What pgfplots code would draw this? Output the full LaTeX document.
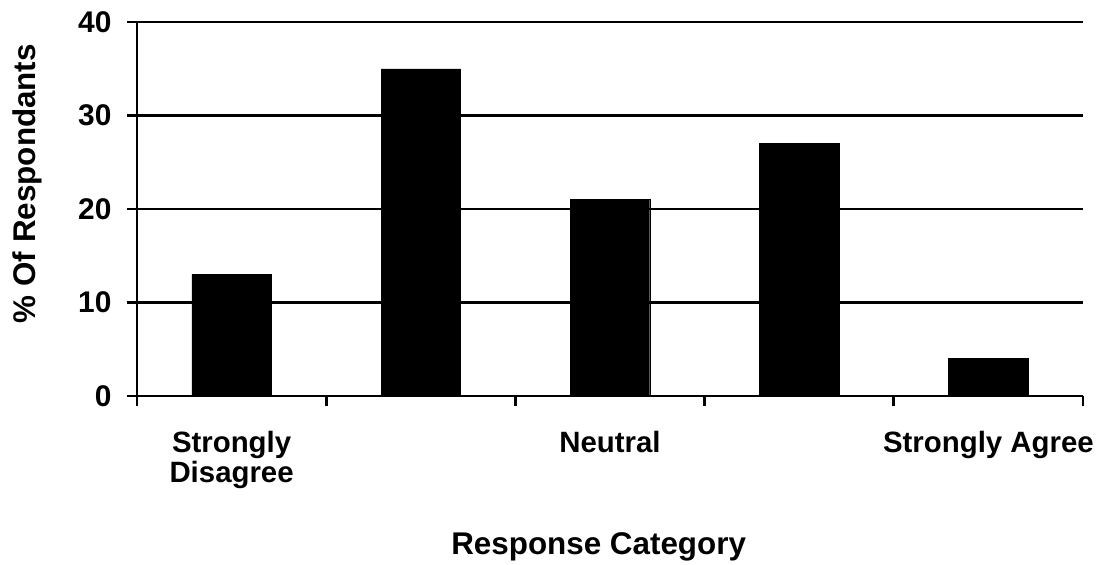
\documentclass[border=0pt]{standalone}
\usepackage{pgfplots}
\pgfplotsset{compat=1.18}
\usepackage{fontspec}
\setmainfont{Liberation Sans}
\begin{document}
\begin{tikzpicture}[x=1bp,y=1bp]
\path[use as bounding box] (0,0) rectangle (1113bp,565bp);
\begin{axis}[
  at={(137bp,169bp)}, anchor=south west,
  scale only axis,
  width=946bp, height=374bp,
  xmin=-0.5, xmax=4.5,
  ymin=0, ymax=40,
  axis x line=bottom, axis y line=left,
  axis line style={line width=2.8bp, -},
  xtick={-0.5,0.5,1.5,2.5,3.5,4.5},
  xticklabels={},
  extra x ticks={0,2,4},
  extra x tick labels={Strongly\\Disagree,Neutral,Strongly Agree},
  extra x tick style={major tick length=0pt, tick label style={align=center, font=\bfseries\fontsize{29.5}{30}\selectfont, anchor=north, yshift=-32bp}},
  ytick={0,10,20,30,40},
  yticklabels={0,10,20,30,40},
  tick align=outside,
  major tick length=10bp,
  tick style={line width=2.8bp, black},
  ymajorgrids,
  major grid style={line width=2.8bp, black},
  y tick label style={font=\bfseries\fontsize{30}{30}\selectfont, anchor=east, xshift=-12bp},
  xlabel={Response Category},
  ylabel={\% Of Respondants},
  label style={font=\bfseries\fontsize{31.5}{33}\selectfont},
  xlabel style={at={(axis description cs:0.488,-0.424)}, anchor=base},
  ylabel style={at={(axis description cs:-0.1162,0.568)}, anchor=center},
  clip=false,
]
\addplot[ybar, bar width=0.42, fill=black, draw=black] coordinates {(0,13) (1,35) (2,21) (3,27) (4,4)};
\end{axis}
\end{tikzpicture}
\end{document}
